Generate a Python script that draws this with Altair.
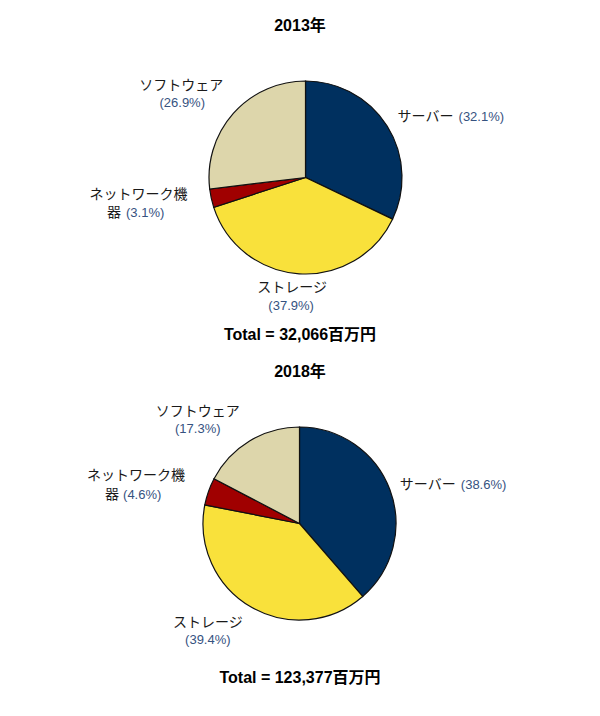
import altair as alt
import pandas as pd

# ---- data ----
categories = ["サーバー", "ストレージ", "ネットワーク機器", "ソフトウェア"]
share_2013 = [32.1, 37.9, 3.1, 26.9]
share_2018 = [38.6, 39.4, 4.6, 17.3]
years = ["2013年", "2018年"]
totals = ["32,066", "123,377"]
colors = ["#00305F", "#F9E13B", "#A00000", "#DDD6AB"]

W, H = 584, 700
FONT = "Liberation Sans, Arial, Noto Sans CJK JP, sans-serif"
DARK = "#1a1a1a"
BLUE = "#36527F"
theta_scale = alt.Scale(domain=[0, 1])


def pie_layers(shares, cx, cy, pieces):
    names = list(categories)
    df = pd.DataFrame({
        "cat": categories,
        "share": shares,
        "order": list(range(len(categories))),
        "name": names,
        "name1": [n[:-1] if len(n) > 6 else n for n in names],
        "name2": [n[-1] if len(n) > 6 else "" for n in names],
        "pct": [f"({v}%)" for v in shares],
    })
    base = alt.Chart(df).transform_stack(
        stack="share", groupby=[], as_=["s0", "s1"], offset="normalize",
        sort=[alt.SortField("order")]
    ).transform_calculate(mid="(datum.s0 + datum.s1) / 2")

    arc = base.mark_arc(outerRadius=96.5, stroke="#111111", strokeWidth=1.2).encode(
        theta=alt.Theta("s0:Q", scale=theta_scale),
        theta2="s1:Q",
        color=alt.Color("cat:N", scale=alt.Scale(domain=categories, range=colors), legend=None),
        x=alt.value(cx), y=alt.value(cy),
    )
    layers = [arc]
    for (ci, field, col, align, r, dx, dy) in pieces:
        size = 13 if field == "pct" else 14
        layers.append(
            base.transform_filter(alt.datum.cat == categories[ci]).mark_text(
                align=align, baseline="middle", radius=r, dx=dx, dy=dy,
                fontSize=size, font=FONT, color=col,
            ).encode(
                theta=alt.Theta("mid:Q", scale=theta_scale),
                text=alt.Text(f"{field}:N"),
                x=alt.value(cx), y=alt.value(cy),
            )
        )
    return layers


pieces_2013 = [
    (0, "name", DARK, "left", 110, -1, -2),
    (0, "pct", BLUE, "left", 110, 60, -2),
    (1, "name", DARK, "center", 112, -6, -1),
    (1, "pct", BLUE, "center", 112, -7, 17),
    (2, "name1", DARK, "center", 150, -20.5, -15),
    (2, "name2", DARK, "center", 150, -45, 3),
    (2, "pct", BLUE, "left", 150, -33, 3),
    (3, "name", DARK, "center", 130, -27, -5),
    (3, "pct", BLUE, "center", 130, -26, 12),
]
pieces_2018 = [
    (0, "name", DARK, "left", 106, 1, -1),
    (0, "pct", BLUE, "left", 106, 62, -1),
    (1, "name", DARK, "center", 115, -34, 0),
    (1, "pct", BLUE, "center", 115, -34, 17),
    (2, "name1", DARK, "center", 160, -12.5, 5.6),
    (2, "name2", DARK, "center", 160, -36.5, 24.6),
    (2, "pct", BLUE, "left", 160, -25.5, 24.6),
    (3, "name", DARK, "center", 125, -37, -4.6),
    (3, "pct", BLUE, "center", 125, -37, 12.4),
]

layers = []
layers += pie_layers(share_2013, 297.5, 169.5, pieces_2013)
layers += pie_layers(share_2018, 291.5, 515.5, pieces_2018)

head = pd.DataFrame({
    "year": years,
    "total": [f"Total = {t}百万円" for t in totals],
})
for i, (ty, tt) in enumerate([(18, 327), (364, 670)]):
    hd = alt.Chart(head.iloc[[i]])
    layers.append(hd.mark_text(fontSize=16, fontWeight="bold", font=FONT, color="#000",
                               align="center", baseline="middle").encode(
        text="year:N", x=alt.value(292), y=alt.value(ty)))
    layers.append(hd.mark_text(fontSize=16, fontWeight="bold", font=FONT, color="#000",
                               align="center", baseline="middle").encode(
        text="total:N", x=alt.value(292), y=alt.value(tt)))

chart = alt.layer(*layers).properties(
    width=W, height=H, padding=0, autosize="none", background="white"
).configure_view(stroke=None)

chart.save("out.html", embed_options={"renderer": "svg", "actions": False})
